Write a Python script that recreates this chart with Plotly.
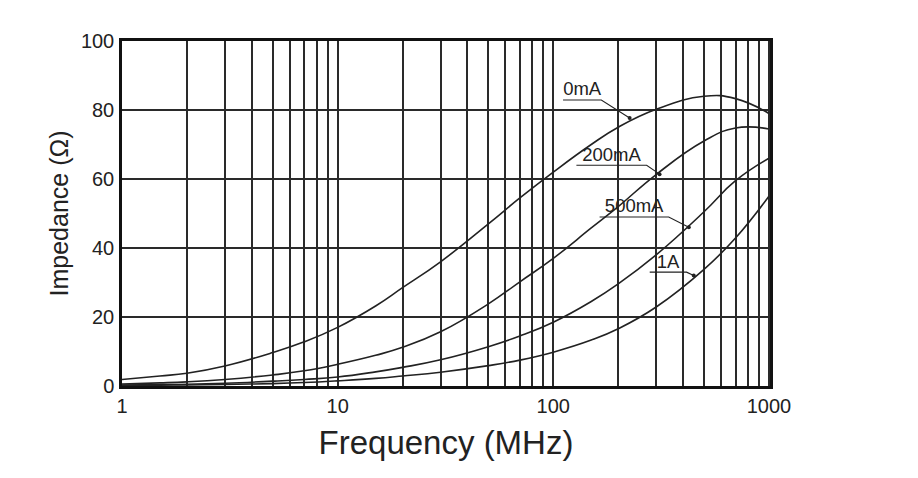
import numpy as np
import plotly.graph_objects as go

# impedance curves (f in MHz, Z in ohm)
freq = [1, 1.5, 2, 3, 5, 7, 10, 15, 20, 30, 50, 70, 100, 150, 200, 300, 500, 700, 1000]
z_0ma = [1.9, 2.9, 3.7, 5.8, 9.7, 12.8, 17, 23.2, 28.5, 36, 47, 54.5, 62, 70, 75, 80.2, 84, 83.3, 79]
z_200ma = [0.6, 0.9, 1.2, 1.9, 3.2, 4.4, 6.3, 8.9, 11.2, 15.7, 23.8, 30.2, 37, 45.8, 52, 61.3, 71, 74.8, 74.5]
z_500ma = [0.3, 0.4, 0.5, 0.8, 1.4, 1.9, 2.6, 4.1, 5.4, 7.6, 11.4, 14.5, 18.5, 24.5, 29.6, 38, 50.5, 59.5, 66]
z_1a = [0.15, 0.25, 0.3, 0.45, 0.7, 1.0, 1.5, 2.2, 2.9, 4.0, 5.9, 7.5, 9.8, 13.3, 16.6, 22.9, 33.8, 42.9, 55]

curves = [z_0ma, z_200ma, z_500ma, z_1a]

# curve labels with their leader lines: underline start, underline end, point on curve
labels = ["0mA", "200mA", "500mA", "1A"]
lead_f = [[111, 167, 226], [128, 271, 311], [164, 343, 425], [280, 415, 448]]
lead_z = [[82.9, 82.9, 77.7], [64, 64, 61.4], [49, 49, 46], [33, 33, 32]]

x_ticks = [m * 10 ** d for d in range(3) for m in range(1, 10)] + [1000]
x_text = [str(v) if v in (1, 10, 100, 1000) else "" for v in x_ticks]

fig = go.Figure()

for z in curves:
    fig.add_trace(go.Scatter(x=freq, y=z, mode="lines",
                             line=dict(color="#222", width=1.6, shape="spline", smoothing=1.3),
                             hoverinfo="skip"))

for name, lf, lz in zip(labels, lead_f, lead_z):
    fig.add_trace(go.Scatter(x=lf, y=lz, mode="lines", line=dict(color="#222", width=1.1)))
    fig.add_trace(go.Scatter(x=[lf[2]], y=[lz[2]], mode="markers", marker=dict(color="#222", size=4)))
    mid = np.sqrt(lf[0] * lf[1])
    fig.add_trace(go.Scatter(x=[mid], y=[lz[0]], mode="text", text=[name], textposition="top center",
                             textfont=dict(size=18.5, color="#222")))

fig.update_layout(
    width=918, height=478,
    margin=dict(l=114, r=156, t=33, b=100),
    paper_bgcolor="white", plot_bgcolor="white",
    showlegend=False,
    font=dict(family="Liberation Sans, Arial", color="#222"),
)
fig.update_xaxes(
    type="log", range=[0, 3.005],
    tickvals=x_ticks, ticktext=x_text, ticks="",
    tickfont=dict(size=20),
    showgrid=True, gridcolor="#2a2a2a", gridwidth=1.5,
    showline=True, linecolor="#111", linewidth=2.5, mirror=True,
    title=dict(text="Frequency (MHz)", font=dict(size=33), standoff=16),
    zeroline=False,
)
fig.update_yaxes(
    range=[0, 100], dtick=20, ticks="",
    tickfont=dict(size=20), ticklabelstandoff=1,
    showgrid=True, gridcolor="#2a2a2a", gridwidth=1.5,
    showline=True, linecolor="#111", linewidth=2.5, mirror=True,
    title=dict(text="Impedance (Ω)", font=dict(size=25), standoff=6),
    zeroline=False,
)

fig.write_html("out.html")
